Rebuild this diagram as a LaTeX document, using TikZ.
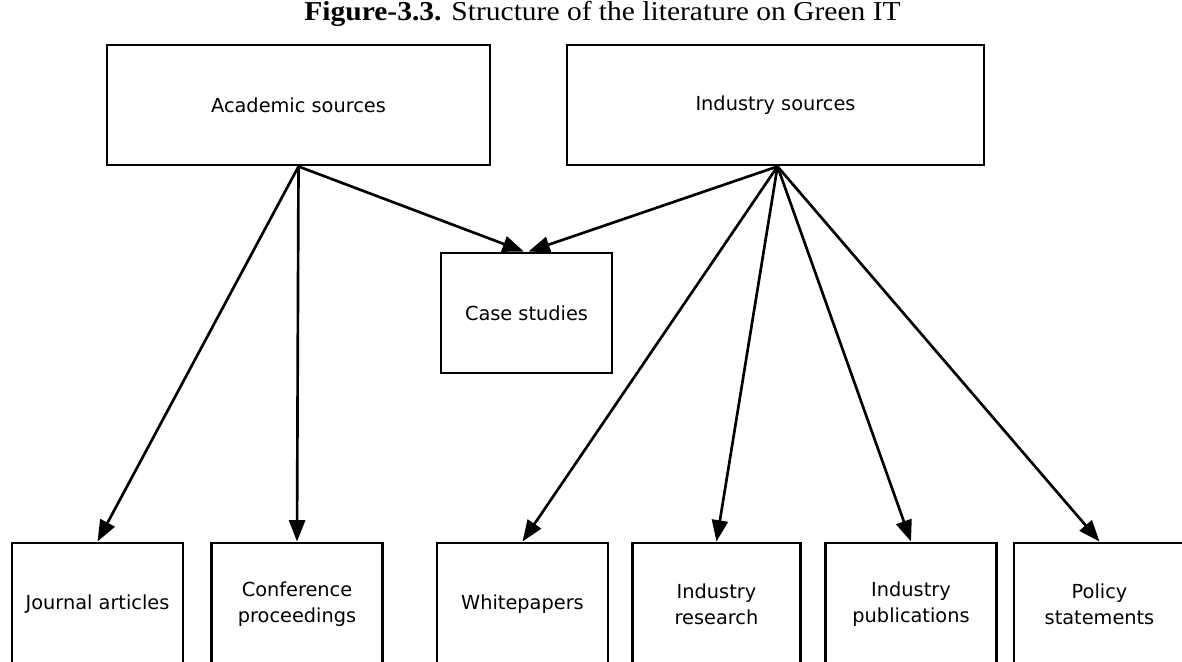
\documentclass[tikz,border=0pt]{standalone}
\usepackage{fontspec}
\setmainfont{Liberation Serif}[FakeStretch=1.08]
\newfontfamily\boxfont{DejaVu Sans}
\usetikzlibrary{arrows.meta}
\begin{document}
\begin{tikzpicture}[x=0.75pt,y=-0.75pt,
  box/.style={draw, line width=2.2pt, rectangle, inner sep=0pt, align=center,
    font=\boxfont\fontsize{14.5}{19.5}\selectfont},
  topbox/.style={box, minimum height=90pt},
  leafbox/.style={box, minimum width=128.25pt, minimum height=91.5pt},
  link/.style={line width=2pt, -{Triangle[length=16pt,width=12pt]}}]
\clip (0,0) rectangle (1182,661);

% caption
\node[anchor=base, inner sep=0pt, font=\fontsize{20.5}{23}\selectfont] (title) at (602.5,20.5)
  {\textbf{Figure-3.3.} Structure of the literature on Green IT};

% source categories
\node[topbox, minimum width=287.25pt] (acad) at (298.5,105) {Academic sources};
\node[topbox, minimum width=312.75pt] (ind) at (775.5,105) {Industry sources};

% shared category
\node[box, minimum width=128.25pt, minimum height=90pt] (case) at (526.5,313) {Case studies};

% literature types
\node[leafbox] (journal) at (97.5,604) {Journal articles};
\node[leafbox] (conf) at (297,604) {Conference\\proceedings};
\node[leafbox] (white) at (522.5,604) {Whitepapers};
\node[leafbox, minimum width=126pt] (ires) at (716.5,604) {Industry\\research};
\node[leafbox] (ipub) at (911,604) {Industry\\publications};
\node[leafbox] (policy) at (1099.5,604) {Policy\\statements};

% connectors
\draw[link] (acad.south) -- (journal.north);
\draw[link] (acad.south) -- (conf.north);
\draw[link] (acad.south) -- ([xshift=-2pt]case.north);
\draw[link] ([xshift=1.5pt]ind.south) -- ([xshift=1.5pt]case.north);
\draw[link] ([xshift=1.5pt]ind.south) -- (white.north);
\draw[link] ([xshift=1.5pt]ind.south) -- (ires.north);
\draw[link] ([xshift=1.5pt]ind.south) -- (ipub.north);
\draw[link] ([xshift=1.5pt]ind.south) -- (policy.north);
\end{tikzpicture}
\end{document}
